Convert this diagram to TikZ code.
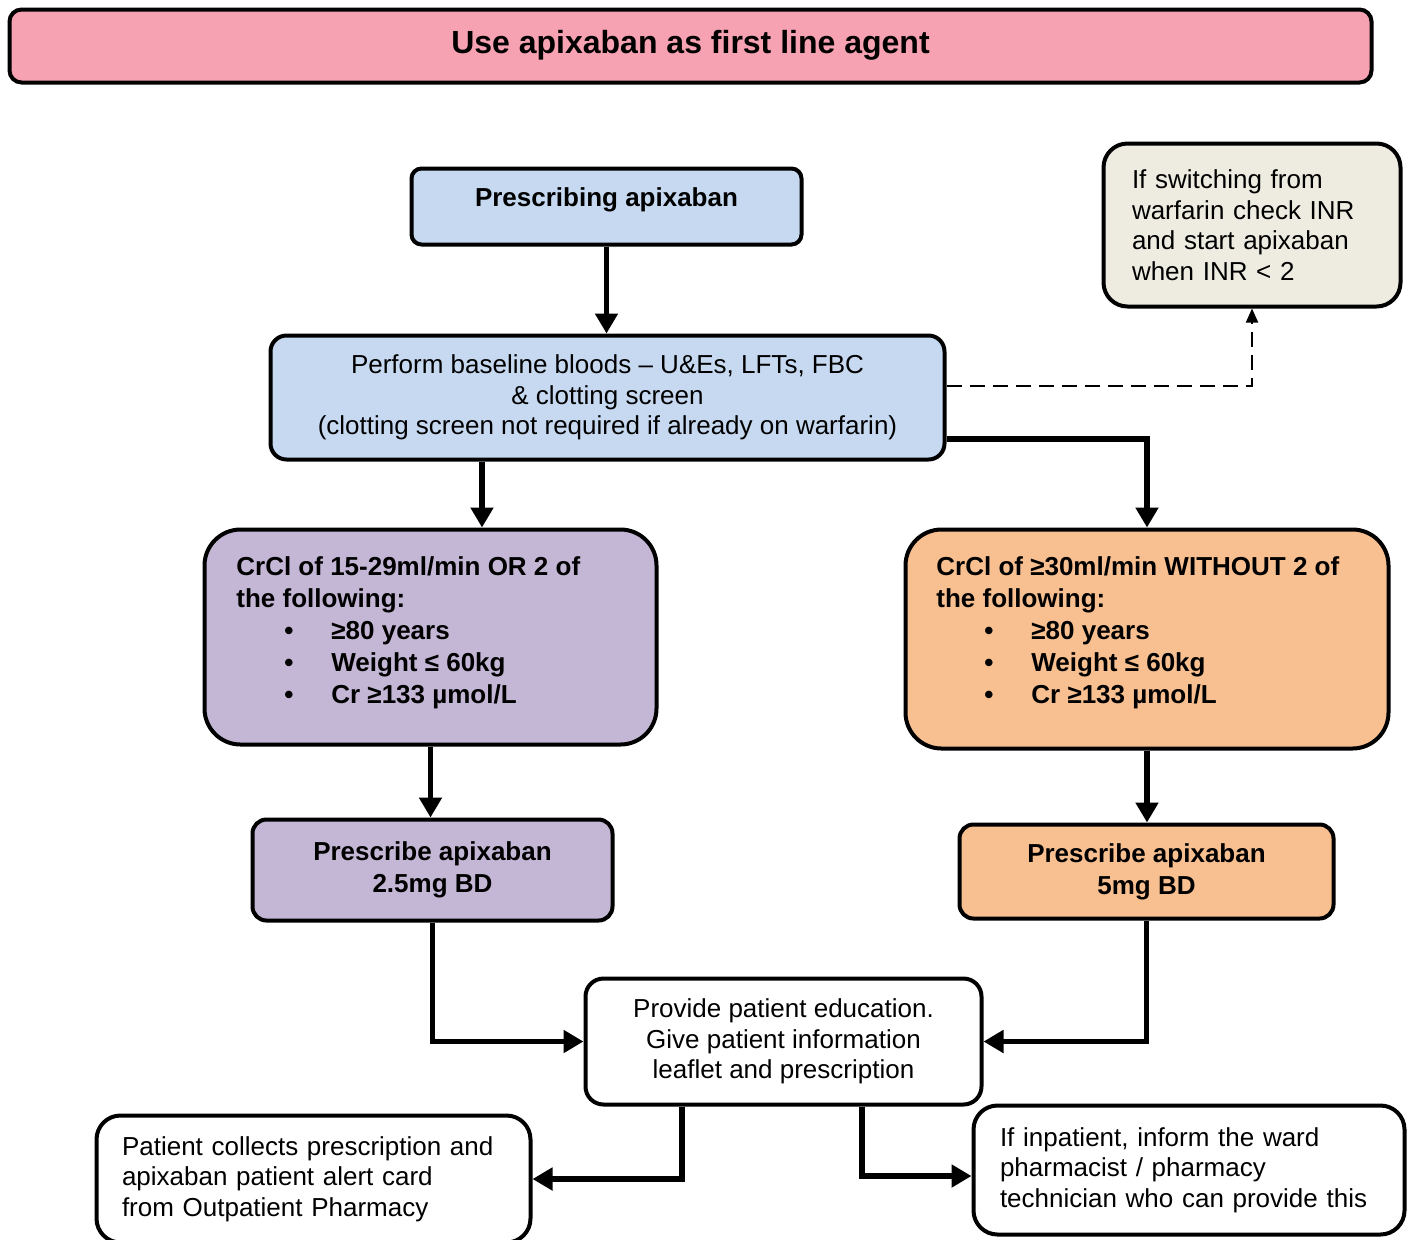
\documentclass[tikz,border=0pt]{standalone}
\usepackage{fontspec}
\setmainfont{Liberation Sans}
\usetikzlibrary{arrows.meta}
\definecolor{pinkc}{HTML}{F7A2B2}
\definecolor{bluec}{HTML}{C6D9F1}
\definecolor{grayc}{HTML}{EEECE1}
\definecolor{purpc}{HTML}{C4B6D5}
\definecolor{orangec}{HTML}{F8C090}
\begin{document}
\begin{tikzpicture}[x=0.5pt,y=-0.5pt,
  box/.style={draw=black, line width=2pt, rectangle, inner sep=0pt},
  txt/.style={font=\fontsize{13pt}{15.25pt}\selectfont},
  btxt/.style={font=\fontsize{13pt}{16pt}\selectfont\bfseries},
  arr/.style={line width=2.6pt, line join=miter, -{Triangle[length=10pt,width=11pt]}},
  darr/.style={line width=1pt, dash pattern=on 7.5pt off 4pt, -{Triangle[length=7pt,width=6pt]}}
]
\useasboundingbox (0,0) rectangle (1408,1239);

% title
\node[box, fill=pinkc, rounded corners=6pt, minimum width=681pt, minimum height=36.5pt,
      font=\fontsize{16pt}{19pt}\selectfont\bfseries, text height=12pt, text depth=4.5pt]
      (title) at (690.5,46) {Use apixaban as first line agent};

% prescribing
\node[box, fill=bluec, rounded corners=5pt, minimum width=195pt, minimum height=38pt,
      btxt, text height=10pt, text depth=10pt]
      (presc) at (606.5,206.5) {Prescribing apixaban};

% baseline bloods
\node[box, fill=bluec, rounded corners=8pt, minimum width=337pt, minimum height=62pt,
      txt, align=center]
      (perform) at (607.5,397.5) {Perform baseline bloods -- U\&Es, LFTs, FBC\\ \& clotting screen\\ (clotting screen not required if already on warfarin)};

% warfarin note
\node[box, fill=grayc, rounded corners=12pt, minimum width=148.5pt, minimum height=81.5pt,
      txt, text width=120pt, align=left]
      (warf) at (1252,225) {If switching from\\ warfarin check INR\\ and start apixaban\\ when INR < 2};

% purple criteria box
\node[box, fill=purpc, rounded corners=18pt, minimum width=226pt, minimum height=107.5pt]
      (crcl) at (430.5,637) {};
\node[btxt, align=left, anchor=base west, inner sep=0pt] (crcltxt) at (236,703)
      {CrCl of 15-29ml/min OR 2 of\\ the following:\\
       \hspace*{24pt}\makebox[23.5pt][l]{•}≥80 years\\
       \hspace*{24pt}\makebox[23.5pt][l]{•}Weight ≤ 60kg\\
       \hspace*{24pt}\makebox[23.5pt][l]{•}Cr ≥133 µmol/L};

% orange criteria box
\node[box, fill=orangec, rounded corners=18pt, minimum width=241.5pt, minimum height=109.5pt]
      (crco) at (1147,639) {};
\node[btxt, align=left, anchor=base west, inner sep=0pt] (crcotxt) at (936,703)
      {CrCl of ≥30ml/min WITHOUT 2 of\\ the following:\\
       \hspace*{24pt}\makebox[23.5pt][l]{•}≥80 years\\
       \hspace*{24pt}\makebox[23.5pt][l]{•}Weight ≤ 60kg\\
       \hspace*{24pt}\makebox[23.5pt][l]{•}Cr ≥133 µmol/L};

% dose boxes
\node[box, fill=purpc, rounded corners=7pt, minimum width=180pt, minimum height=50.5pt,
      btxt, align=center]
      (low) at (432.5,870) {Prescribe apixaban\\ 2.5mg BD};
\node[box, fill=orangec, rounded corners=7pt, minimum width=187pt, minimum height=47pt,
      btxt, align=center]
      (std) at (1146.5,871.5) {Prescribe apixaban\\ 5mg BD};

% education
\node[box, fill=white, rounded corners=9pt, minimum width=198pt, minimum height=63pt,
      txt, align=center]
      (edu) at (783.5,1041.5) {Provide patient education.\\ Give patient information\\ leaflet and prescription};

% bottom boxes
\node[box, fill=white, rounded corners=12pt, minimum width=217pt, minimum height=63.5pt,
      txt, text width=191.5pt, align=left]
      (outp) at (313.5,1179) {Patient collects prescription and\\ apixaban patient alert card\\ from Outpatient Pharmacy};
\node[box, fill=white, rounded corners=12pt, minimum width=215.5pt, minimum height=64.5pt,
      txt, text width=189pt, align=left]
      (inp) at (1189,1170) {If inpatient, inform the ward\\ pharmacist / pharmacy\\ technician who can provide this};

% connectors
\draw[arr] (presc.south) -- (presc.south |- perform.north);
\draw[arr] (482,0 |- perform.south) -- (482,0 |- crcl.north);
\draw[arr] (perform.east |- 0,439) -| (crco.north);
\draw[darr] (perform.east |- 0,386) -| (warf.south);
\draw[arr] (crcl.south) -- (crcl.south |- low.north);
\draw[arr] (crco.south) -- (crco.south |- std.north);
\draw[arr] (low.south) |- (edu.west);
\draw[arr] (std.south) |- (edu.east);
\draw[arr] (682,0 |- edu.south) |- (outp.east);
\draw[arr] (862,0 |- edu.south) |- (inp.west |- 0,1176);
\end{tikzpicture}
\end{document}
